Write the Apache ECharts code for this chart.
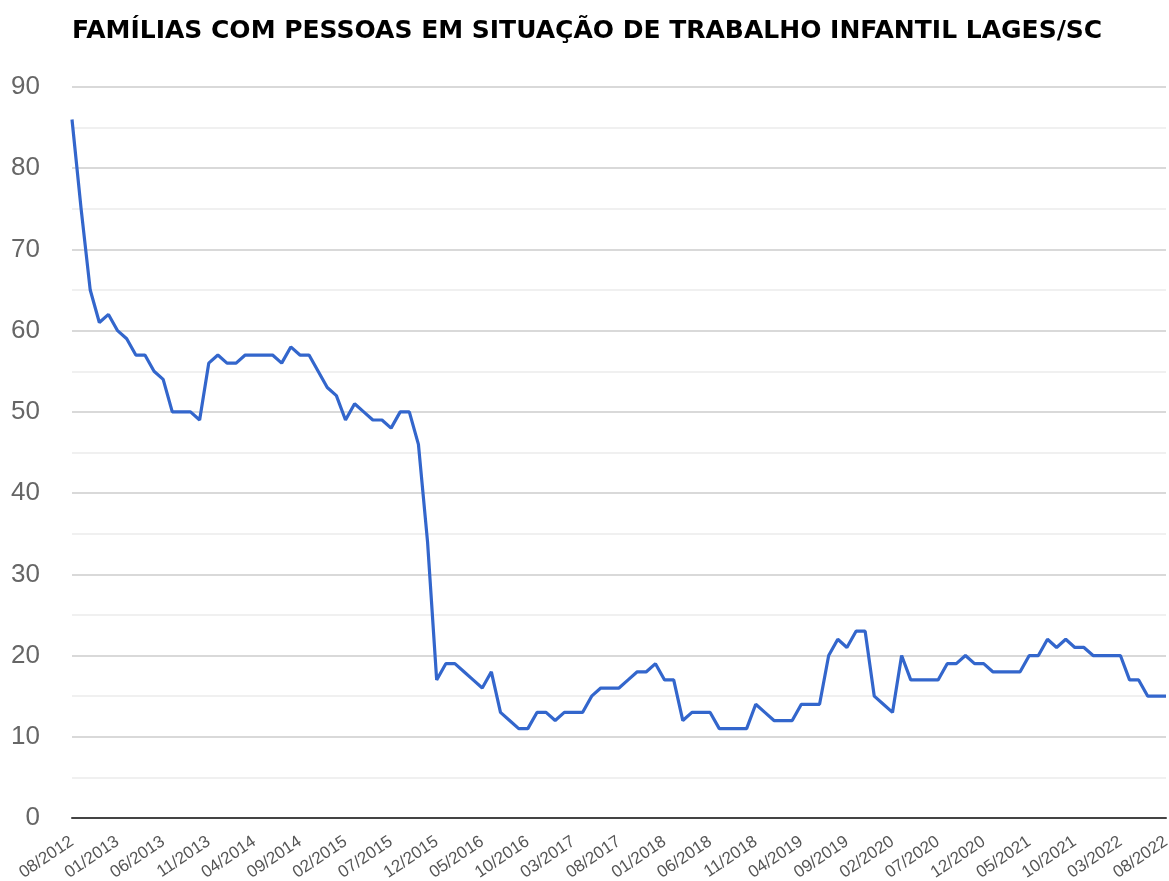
<!DOCTYPE html>
<html>
<head>
<meta charset="utf-8">
<script src="https://cdn.jsdelivr.net/npm/echarts@6/dist/echarts.min.js"></script>
<style>
  html, body { margin: 0; padding: 0; background: #fff; }
  #chart { width: 1169px; height: 881px; }
</style>
</head>
<body>
<div id="chart"></div>
<script>
// meses de 08/2012 a 08/2022 (um ponto por mês)
const startYear = 2012;
const startMonth = 8;
const monthCount = 121;
const months = [];
for (let i = 0; i < monthCount; i++) {
  const m = (startMonth - 1 + i) % 12 + 1;
  const y = startYear + Math.floor((startMonth - 1 + i) / 12);
  months.push((m < 10 ? "0" + m : "" + m) + "/" + y);
}

// famílias com pessoas em situação de trabalho infantil
const familias = [
  86, 75, 65, 61, 62, 60, 59, 57, 57, 55,
  54, 50, 50, 50, 49, 56, 57, 56, 56, 57,
  57, 57, 57, 56, 58, 57, 57, 55, 53, 52,
  49, 51, 50, 49, 49, 48, 50, 50, 46, 34,
  17, 19, 19, 18, 17, 16, 18, 13, 12, 11,
  11, 13, 13, 12, 13, 13, 13, 15, 16, 16,
  16, 17, 18, 18, 19, 17, 17, 12, 13, 13,
  13, 11, 11, 11, 11, 14, 13, 12, 12, 12,
  14, 14, 14, 20, 22, 21, 23, 23, 15, 14,
  13, 20, 17, 17, 17, 17, 19, 19, 20, 19,
  19, 18, 18, 18, 18, 20, 20, 22, 21, 22,
  21, 21, 20, 20, 20, 20, 17, 17, 15, 15,
  15
];

const yTicks = [0, 10, 20, 30, 40, 50, 60, 70, 80, 90];

const chart = echarts.init(document.getElementById("chart"));

const option = {
  animation: false,
  backgroundColor: "#ffffff",
  title: {
    text: "FAMÍLIAS COM PESSOAS EM SITUAÇÃO DE TRABALHO INFANTIL LAGES/SC",
    left: 67,
    top: 14,
    textStyle: {
      fontFamily: "DejaVu Sans",
      fontWeight: "bold",
      fontSize: 25,
      color: "#000000"
    }
  },
  grid: {
    left: 72,
    right: 3,
    top: 87,
    bottom: 63,
    containLabel: false,
    outerBoundsMode: "none"
  },
  xAxis: {
    type: "category",
    data: months,
    boundaryGap: false,
    axisLine: { show: true, lineStyle: { color: "#444444", width: 2 } },
    axisTick: { show: false },
    splitLine: { show: false },
    axisLabel: {
      interval: 4,
      rotate: 34,
      margin: 22,
      fontFamily: "Liberation Sans",
      fontSize: 17,
      color: "#555555"
    }
  },
  yAxis: {
    type: "value",
    min: yTicks[0],
    max: yTicks[yTicks.length - 1],
    interval: 10,
    axisLine: { show: false },
    axisTick: { show: false },
    axisLabel: {
      margin: 32,
      fontFamily: "Liberation Sans",
      fontSize: 26,
      color: "#666666",
      formatter: (v) => (yTicks.indexOf(v) >= 0 ? String(v) : "")
    },
    splitLine: { show: true, lineStyle: { color: "#cccccc", width: 1.5 } },
    minorTick: { show: false, splitNumber: 2 },
    minorSplitLine: { show: true, lineStyle: { color: "#ebebeb", width: 1.5 } }
  },
  series: [
    {
      name: "Famílias",
      type: "line",
      data: familias,
      symbol: "none",
      lineStyle: { color: "#3366cc", width: 3.2 },
      itemStyle: { color: "#3366cc" },
      z: 3
    }
  ]
};

chart.setOption(option);
</script>
</body>
</html>
